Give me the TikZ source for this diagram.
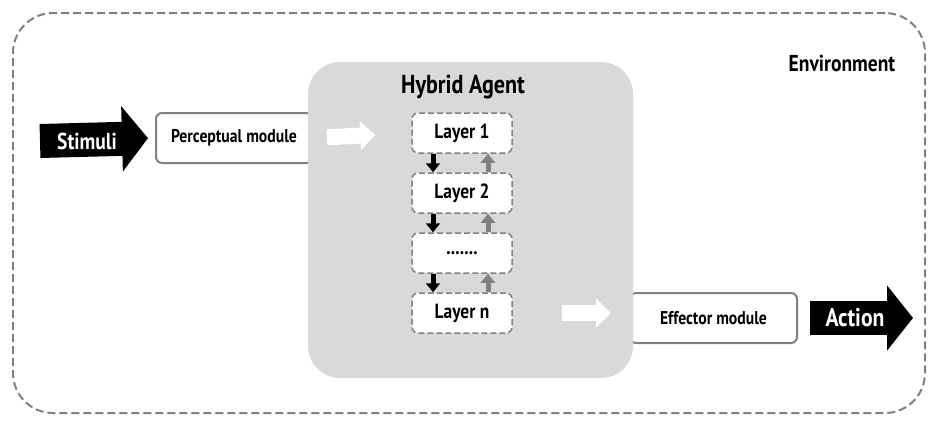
\documentclass[tikz,border=0pt]{standalone}
\usepackage{fontspec}
\setmainfont{PT Sans}[FakeStretch=0.85]
\usepackage{tikz}
\usetikzlibrary{arrows.meta,calc}
\definecolor{edge}{HTML}{808080}
\definecolor{agentbg}{HTML}{D9D9D9}
\tikzset{
  envbox/.style={rectangle,rounded corners=40pt,draw=edge,line width=2pt,
    dash pattern=on 8pt off 4pt,minimum width=912pt,minimum height=400pt},
  modbox/.style={rectangle,rounded corners=6pt,draw=edge,line width=2pt,
    fill=white,minimum height=50pt,font=\bfseries\fontsize{18.5}{21}\selectfont},
  agentbox/.style={rectangle,rounded corners=32pt,fill=agentbg,
    minimum width=325pt,minimum height=316pt},
  layerbox/.style={rectangle,rounded corners=6pt,draw=edge,line width=1.5pt,
    dash pattern=on 6pt off 3pt,fill=white,minimum width=100pt,
    minimum height=40pt,font=\bfseries\fontsize{20.5}{23}\selectfont},
  biglbl/.style={font=\bfseries\fontsize{23}{26}\selectfont},
  bigar/.style={line width=34pt,draw=black,-{Triangle[length=26pt,width=64pt]}},
  whar/.style={line width=16pt,draw=white,-{Triangle[length=15pt,width=28pt]}},
  downar/.style={line width=5pt,draw=black,-{Triangle[length=9pt,width=14pt]}},
  upar/.style={line width=5pt,draw=edge,-{Triangle[length=9pt,width=14pt]}},
}

\begin{document}
\begin{tikzpicture}[x=1pt,y=-1pt]
  \useasboundingbox (0,0) rectangle (932,423);
  \node[envbox] (env) at (469,213) {};
  \node[biglbl] (envlbl) at (842,63) {Environment};
  \node[modbox,minimum width=156pt] (percep) at (234,138) {Perceptual module};
  \node[modbox,minimum width=167pt] (effector) at (713.5,318) {Effector module};
  \node[agentbox] (agent) at (470.5,220) {};
  \node[biglbl,font=\bfseries\fontsize{26}{29}\selectfont] (agentlbl) at (463,87) {Hybrid Agent};
  % layer stack
  \node[layerbox] (l1) at (462,133) {Layer 1};
  \node[layerbox] (l2) at (462,193) {Layer 2};
  \node[layerbox] (l3) at (462,253) {.......};
  \node[layerbox] (l4) at (462,313) {Layer n};
  \foreach \a/\b in {l1/l2,l2/l3,l3/l4}{
    \draw[downar] ([xshift=-29pt]\a.south) -- ([xshift=-29pt]\b.north);
    \draw[upar] ([xshift=26pt]\b.north) -- ([xshift=26pt]\a.south);
  }
  % flow in and out
  \coordinate (stimin) at (40,141);
  \coordinate (actout) at (913,318);
  \draw[bigar,shorten >=7pt] (stimin) -- (percep.west);
  \node[biglbl,text=white] (stimlbl) at (87,141) {Stimuli};
  \draw[whar,shorten <=14pt,shorten >=36pt] (percep.east) -- (l1.west);
  \draw[whar,shorten <=49pt,shorten >=18pt] (l4.east) -- (l4.east -| effector.west);
  \draw[bigar,shorten <=12pt] (effector.east) -- (actout);
  \node[biglbl,text=white,font=\bfseries\fontsize{25.5}{28}\selectfont] (actlbl) at (855,318) {Action};
\end{tikzpicture}
\end{document}
